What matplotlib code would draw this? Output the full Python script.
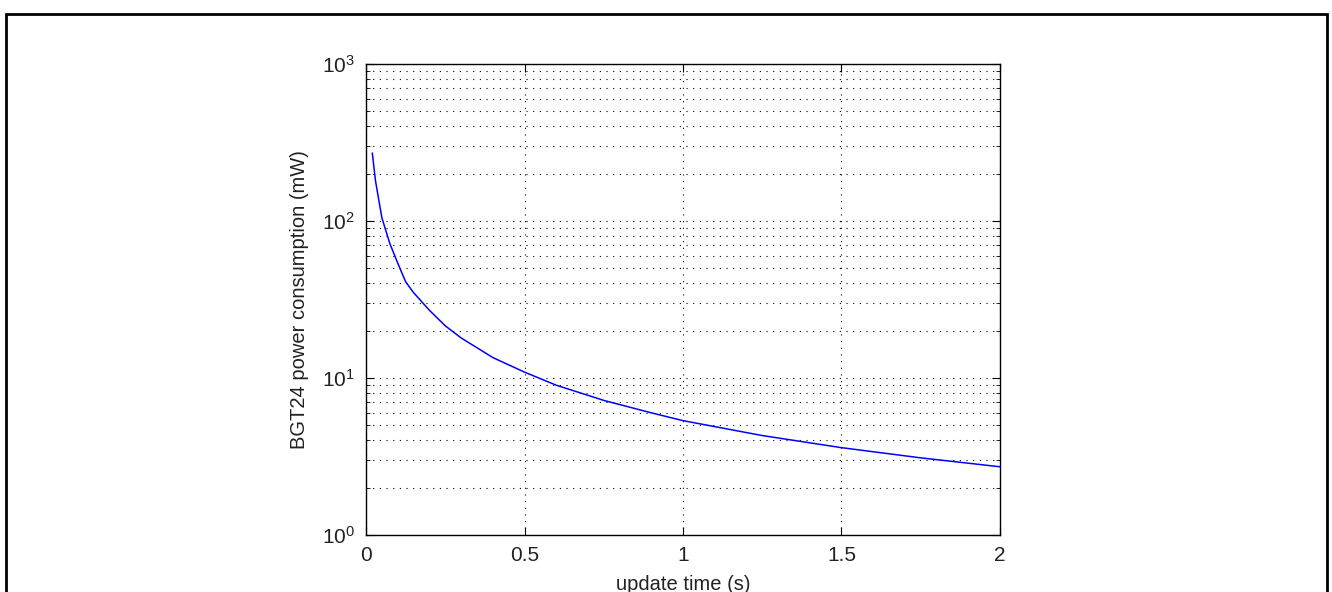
import matplotlib
matplotlib.use("Agg")
import matplotlib.pyplot as plt
from matplotlib.patches import Rectangle
from matplotlib.ticker import LogLocator, FixedLocator

plt.rcParams['font.family'] = ['Liberation Sans', 'DejaVu Sans']
plt.rcParams['mathtext.fontset'] = 'custom'
plt.rcParams['mathtext.rm'] = 'Liberation Sans'
plt.rcParams['mathtext.it'] = 'Liberation Sans'

# values
update_time = [0.02, 0.03, 0.05, 0.075, 0.1, 0.125, 0.15, 0.2, 0.25, 0.3,
               0.4, 0.5, 0.6, 0.75, 0.9, 1.0, 1.25, 1.5, 1.75, 2.0]
power_mw = [270, 180, 105, 72, 54, 41, 35, 27, 21.5, 18,
            13.5, 10.9, 9.0, 7.2, 6.0, 5.35, 4.3, 3.6, 3.1, 2.72]
x_ticks = [0, 0.5, 1, 1.5, 2]
x_tick_labels = ['0', '0.5', '1', '1.5', '2']

fig = plt.figure(figsize=(13.32, 5.92), dpi=100)
ax = fig.add_axes([366/1332, 1-535/592, 634/1332, 471/592])

ax.plot(update_time, power_mw, color=(0, 0, 1), lw=1.1)
ax.set_yscale('log')
ax.set_xlim(0, 2)
ax.set_ylim(1, 1000)

ax.xaxis.set_major_locator(FixedLocator(x_ticks))
ax.set_xticklabels(x_tick_labels)
ax.yaxis.set_major_locator(LogLocator(base=10, numticks=10))
ax.yaxis.set_minor_locator(LogLocator(base=10, subs=range(2, 10), numticks=20))

dots = (0, (1, 5))
ax.grid(True, which='major', axis='both', color='black', linestyle=dots, lw=0.8)
ax.grid(True, which='minor', axis='y', color='black', linestyle=dots, lw=0.8)

ax.tick_params(which='both', direction='in', top=True, right=True, labelsize=15,
               labelcolor='#222222')
ax.tick_params(axis='x', pad=8)
ax.tick_params(axis='y', pad=8)
ax.tick_params(which='major', length=6)
ax.tick_params(which='minor', length=3)
for s in ax.spines.values():
    s.set_linewidth(1)

ax.set_xlabel('update time (s)', fontsize=14.5, color='#222222')
ax.set_ylabel('BGT24 power consumption (mW)', fontsize=14.5, color='#222222')
ax.xaxis.set_label_coords(0.5, -0.085)
ax.yaxis.set_label_coords(-0.09, 0.5)

# outer frame around the figure
fig.patches.append(Rectangle((6/1332, -0.2), 1321/1332, 1.2 - 14/592, transform=fig.transFigure,
                             fill=False, edgecolor='black', lw=2, clip_on=False))

fig.savefig('out.png', dpi=100)
